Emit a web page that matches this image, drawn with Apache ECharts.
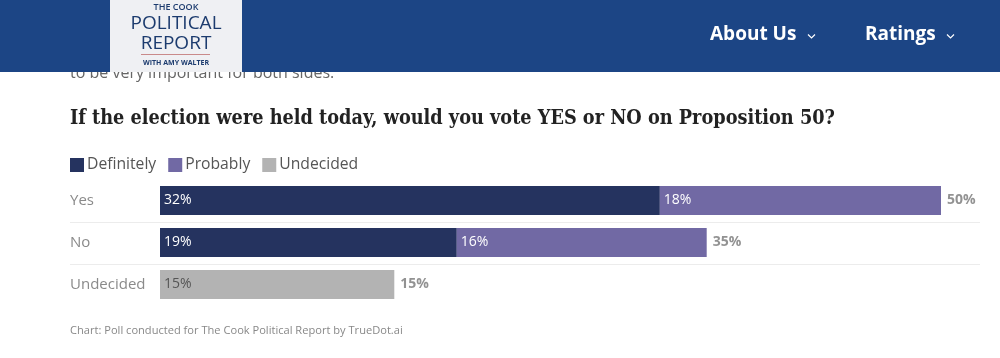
<!DOCTYPE html>
<html><head><meta charset="utf-8">
<script src="https://cdn.jsdelivr.net/npm/echarts@6/dist/echarts.min.js"></script>
<style>html,body{margin:0;padding:0;background:#fff;}#c{width:1000px;height:358px;}</style>
</head><body><div id="c"></div>
<script>
const categories = ['Yes', 'No', 'Undecided'];
const definitely = [32, 19, null];
const probably = [18, 16, null];
const undecided = [null, null, 15];
const seriesNames = ['Definitely', 'Probably', 'Undecided'];
const totals = categories.map((c, i) => (definitely[i] || 0) + (probably[i] || 0) + (undecided[i] || 0));

const FONT = '"Open Sans", sans-serif';
const chart = echarts.init(document.getElementById('c'));
const insideLabel = (color) => ({
  show: true, position: 'insideLeft', distance: 4, color: color, fontSize: 14, fontFamily: FONT,
  formatter: p => p.value == null ? '' : p.value + '%'
});
chart.setOption({
  animation: false,
  backgroundColor: '#fff',
  title: [{
    text: 'If the election were held today, would you vote YES or NO on Proposition 50?',
    left: 70, top: 109, padding: 0,
    textStyle: { fontFamily: '"DejaVu Serif Condensed", "DejaVu Serif", serif', fontWeight: 'bold', fontSize: 19.7, color: '#222' }
  }, {
    text: 'Chart: Poll conducted for The Cook Political Report by TrueDot.ai',
    left: 70, top: 325, padding: 0,
    textStyle: { fontFamily: FONT, fontWeight: 'normal', fontSize: 11.1, color: '#888' }
  }],
  legend: {
    left: 65, top: 152, icon: 'rect', itemWidth: 14, itemHeight: 14, itemGap: 12,
    data: seriesNames,
    textStyle: { fontFamily: FONT, fontSize: 15.7, color: '#555', padding: [0, 0, 0, -2] }
  },
  grid: { left: 160, top: 179.5, width: 781, height: 126, containLabel: false },
  xAxis: { type: 'value', min: 0, max: 50, show: false },
  yAxis: {
    type: 'category', data: categories, inverse: true,
    axisLine: { show: false }, axisTick: { show: false }, splitLine: { show: false },
    axisLabel: { align: 'left', margin: 90, color: '#8a8a8a', fontSize: 15, fontFamily: FONT }
  },
  series: [
    { name: 'Definitely', type: 'bar', stack: 't', data: definitely, barWidth: 29,
      itemStyle: { color: '#25335f' }, label: insideLabel('#fff') },
    { name: 'Probably', type: 'bar', stack: 't', data: probably, barWidth: 29,
      itemStyle: { color: '#7169a4' }, label: insideLabel('#fff') },
    { name: 'Undecided', type: 'bar', stack: 't', data: undecided, barWidth: 29,
      itemStyle: { color: '#b3b3b3' }, label: insideLabel('#555') },
    { name: 'Total', type: 'scatter', data: totals, symbolSize: 0, silent: true,
      label: { show: true, position: 'right', distance: 6, color: '#777', fontWeight: 'bold', fontSize: 14,
        fontFamily: FONT, formatter: p => p.value + '%' } }
  ],
  graphic: [
    { type: 'text', left: 70, top: 65, z: 1,
      style: { text: 'to be very important for both sides.', font: '16px "Open Sans", sans-serif', fill: '#666' } },
    { type: 'rect', shape: { x: 0, y: 0, width: 1000, height: 72 }, style: { fill: '#1c4585' }, z: 5 },
    { type: 'rect', shape: { x: 110, y: 0, width: 132, height: 72 }, style: { fill: '#eff0f3' }, z: 6 },
    { type: 'text', x: 176, y: 3, z: 7, style: { text: 'THE COOK', font: '600 9px "Open Sans", sans-serif', fill: '#1c3b6e', align: 'center' } },
    { type: 'text', x: 176, y: 14, z: 7, style: { text: 'POLITICAL', font: '19px "Open Sans", sans-serif', fill: '#1c3b6e', align: 'center' } },
    { type: 'text', x: 176, y: 34, z: 7, style: { text: 'REPORT', font: '19px "Open Sans", sans-serif', fill: '#1c3b6e', align: 'center' } },
    { type: 'line', shape: { x1: 141, y1: 54.5, x2: 210, y2: 54.5 }, style: { stroke: '#c98a8a', lineWidth: 1 }, z: 7 },
    { type: 'text', x: 176, y: 59, z: 7, style: { text: 'WITH AMY WALTER', font: 'bold 7px "Open Sans", sans-serif', fill: '#1c3b6e', align: 'center' } },
    { type: 'text', x: 710, y: 25, z: 7, style: { text: 'About Us', font: 'bold 19px "Open Sans", sans-serif', fill: '#fff' } },
    { type: 'polyline', shape: { points: [[808, 34.5], [811.5, 38], [815, 34.5]] }, style: { stroke: '#fff', lineWidth: 1.2, fill: null }, z: 7 },
    { type: 'text', x: 865, y: 25, z: 7, style: { text: 'Ratings', font: 'bold 19px "Open Sans", sans-serif', fill: '#fff' } },
    { type: 'polyline', shape: { points: [[947, 34.5], [950.5, 38], [954, 34.5]] }, style: { stroke: '#fff', lineWidth: 1.2, fill: null }, z: 7 },
    { type: 'line', shape: { x1: 70, y1: 222.5, x2: 980, y2: 222.5 }, style: { stroke: '#ececec', lineWidth: 1 }, z: 0 },
    { type: 'line', shape: { x1: 70, y1: 264.5, x2: 980, y2: 264.5 }, style: { stroke: '#ececec', lineWidth: 1 }, z: 0 }
  ]
});
</script></body></html>
